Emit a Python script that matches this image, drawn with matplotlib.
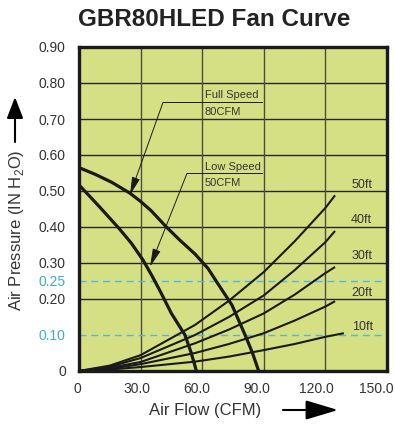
import matplotlib
matplotlib.use("Agg")
import matplotlib.pyplot as plt
import matplotlib.transforms as mtransforms

plt.rcParams['font.family'] = ['Liberation Sans', 'DejaVu Sans']
plt.rcParams['mathtext.fontset'] = 'custom'
plt.rcParams['mathtext.rm'] = 'Liberation Sans'

# Fan curves
flow_full = [0, 8, 16, 24.8, 30, 35, 42.9, 49.2, 56.5, 62.8, 68.5, 74.5, 80.9, 84.5, 87.5]
press_full = [0.565, 0.546, 0.524, 0.494, 0.471, 0.446, 0.398, 0.363, 0.325, 0.285, 0.235, 0.183, 0.10, 0.05, 0.0]
flow_low = [0, 10, 19.5, 25.5, 31.2, 35.5, 39.5, 45, 51.6, 54.5, 57.2]
press_low = [0.517, 0.456, 0.396, 0.355, 0.308, 0.265, 0.222, 0.16, 0.10, 0.053, 0.0]

# System (duct length) curves
sys_labels = ["10ft", "20ft", "30ft", "40ft", "50ft"]
sys_flow = [
    [0, 15, 30, 56.5, 73, 90, 105, 120, 129],
    [0, 15, 30, 56.5, 73, 90, 105, 120, 124.7],
    [0, 15, 30, 56.5, 73, 90, 105, 120, 124.7],
    [0, 15, 30, 56.5, 73, 90, 105, 120, 124.7],
    [0, 15, 30, 56.5, 73, 90, 105, 120, 124.7],
]
sys_press = [
    [0, 0.004, 0.011, 0.026, 0.040, 0.058, 0.075, 0.095, 0.105],
    [0, 0.006, 0.019, 0.050, 0.075, 0.105, 0.140, 0.179, 0.194],
    [0, 0.009, 0.025, 0.077, 0.115, 0.160, 0.212, 0.272, 0.289],
    [0, 0.012, 0.036, 0.100, 0.150, 0.210, 0.280, 0.358, 0.389],
    [0, 0.015, 0.044, 0.128, 0.195, 0.275, 0.360, 0.453, 0.488],
]

x_ticks = [0, 30, 60, 90, 120, 150]
x_tick_labels = ["0", "30.0", "60.0", "90.0", "120.0", "150.0"]
y_ticks = [0, 0.10, 0.20, 0.25, 0.30, 0.40, 0.50, 0.60, 0.70, 0.80, 0.90]
y_tick_labels = ["0", "0.10", "0.20", "0.25", "0.30", "0.40", "0.50", "0.60", "0.70", "0.80", "0.90"]
highlight_levels = [0.10, 0.25]
grid_y = [0.2, 0.3, 0.4, 0.5, 0.6, 0.7, 0.8]
grid_x = [30, 60, 90, 120]

BG = '#d5e085'
BLUE = '#3fa9dc'
DASH = '#4fb8dc'

fig = plt.figure(figsize=(3.95, 4.25), dpi=100)
ax = fig.add_axes([79 / 395, 54 / 425, 308 / 395, 324 / 425])
ax.set_facecolor(BG)
ax.set_xlim(0, 150)
ax.set_ylim(0, 0.90)

# Grid
for gy in grid_y:
    ax.axhline(gy, color='#262626', lw=1.0, zorder=1)
for gx in grid_x:
    ax.axvline(gx, color='#4d4d3a', lw=1.0, zorder=1)
for hy in highlight_levels:
    ax.axhline(hy, color=DASH, lw=1.0, dashes=(5, 3.5), zorder=1)

# System curves
for fl, pr in zip(sys_flow, sys_press):
    ax.plot(fl, pr, color='#1a1a1a', lw=1.5, solid_capstyle='butt', zorder=2)

label_pos = [(133, 0.114), (132.5, 0.208), (132.5, 0.311), (132.5, 0.411), (132.5, 0.508)]
for lab, (lx, ly) in zip(sys_labels, label_pos):
    ax.text(lx, ly, lab, fontsize=9, color='#333333', family=['Liberation Sans Narrow', 'Liberation Sans'],
            ha='left', va='baseline', zorder=4)

# Fan curves
ax.plot(flow_full, press_full, color='#1a1a1a', lw=2.3, zorder=3)
ax.plot(flow_low, press_low, color='#1a1a1a', lw=2.3, zorder=3)

# Leaders
lead = dict(arrowstyle='-|>,head_length=1.1,head_width=0.25', color='#1a1a1a', lw=0.7,
            mutation_scale=10, shrinkA=0, shrinkB=0)
ax.plot([40.9, 89.1], [0.746, 0.746], color='#1a1a1a', lw=0.7, zorder=4)
ax.annotate('', xy=(24.8, 0.489), xytext=(40.9, 0.746), arrowprops=lead, zorder=4)
ax.text(61.2, 0.758, 'Full Speed', fontsize=8, color='#333333', va='baseline', zorder=4)
ax.text(61.2, 0.711, '80CFM', fontsize=8, color='#333333', va='baseline', zorder=4)

ax.plot([52.6, 89.1], [0.549, 0.549], color='#1a1a1a', lw=0.7, zorder=4)
ax.annotate('', xy=(34.6, 0.290), xytext=(52.6, 0.549), arrowprops=lead, zorder=4)
ax.text(61.2, 0.558, 'Low Speed', fontsize=8, color='#333333', va='baseline', zorder=4)
ax.text(61.2, 0.515, '50CFM', fontsize=8, color='#333333', va='baseline', zorder=4)

# Axes styling
for sp in ax.spines.values():
    sp.set_linewidth(2.4)
    sp.set_color('#1a1a1a')
    sp.set_zorder(5)

ax.set_xticks(x_ticks)
ax.set_xticklabels(x_tick_labels)
ax.set_yticks(y_ticks)
ax.set_yticklabels(y_tick_labels)
ax.tick_params(length=0, labelsize=10, labelcolor='#333333')
ax.tick_params(axis='y', pad=9.5)
ax.tick_params(axis='x', pad=8)
for lab, val in zip(ax.get_yticklabels(), y_ticks):
    if val in highlight_levels:
        lab.set_color(BLUE)
# the x labels sit a little left of their grid lines in the original
for lab, val in zip(ax.get_xticklabels(), x_ticks):
    dx = -(2 + 9 * val / 150) / 100
    lab.set_transform(lab.get_transform() + mtransforms.ScaledTranslation(dx, 0, fig.dpi_scale_trans))

# Title and axis labels
fig.text(214.5 / 395, 1 - 26 / 425, 'GBR80HLED Fan Curve', fontsize=17.5, fontweight='bold',
         color='#222222', ha='center', va='baseline')
fig.text(205.5 / 395, 15 / 425, 'Air Flow (CFM)', fontsize=12, color='#333333',
         ha='center', va='center')
fig.text(17 / 395, 195 / 425, r'Air Pressure (IN H$_\mathregular{2}$O)', fontsize=12,
         color='#333333', rotation=90, ha='center', va='center')

ax.annotate('', xy=(338, 15), xytext=(283, 15), xycoords='figure pixels',
            arrowprops=dict(arrowstyle='-|>,head_length=2.0,head_width=0.6', color='black',
                            lw=1.5, mutation_scale=10, shrinkA=0, shrinkB=0))
ax.annotate('', xy=(15, 328), xytext=(15, 283), xycoords='figure pixels',
            arrowprops=dict(arrowstyle='-|>,head_length=1.3,head_width=0.5', color='black',
                            lw=1.5, mutation_scale=10, shrinkA=0, shrinkB=0))

fig.savefig('out.png', dpi=100)
